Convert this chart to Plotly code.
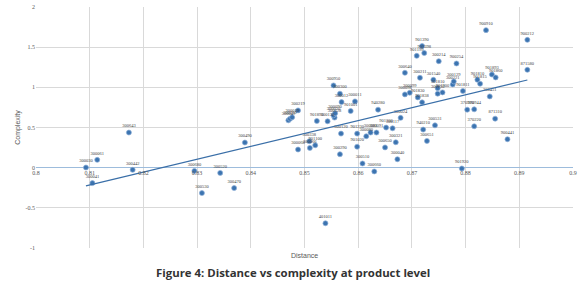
import numpy as np
import plotly.graph_objects as go

product_codes = [
    "300030", "300061", "300041", "300643", "300442", "300490", "300680", "300520",
    "300530", "300470", "300049", "300059", "300019", "300219", "300068", "300338",
    "300066", "901100", "901890", "300130", "401011", "300950", "300300", "300012",
    "300011", "901001", "300628", "300020", "300090", "940280", "300120", "901230",
    "300080", "300081", "300091", "901200", "300117", "901020", "300650", "300290",
    "300510", "300660", "300321", "300040", "300024", "940210", "300651", "300531",
    "300640", "901199", "901390", "901398", "300211", "300214", "900254", "301540",
    "301810", "300221", "300129", "901811", "901900", "300150", "300098", "300099",
    "901830", "901838", "900910", "900212", "871580", "901810", "901815", "901893",
    "901860", "300451", "370980", "370944", "871310", "370220", "900441", "901920",
]
distance = [
    0.8093, 0.8114, 0.8105, 0.8173, 0.8180, 0.8389, 0.8295, 0.8343,
    0.8309, 0.8369, 0.8470, 0.8473, 0.8477, 0.8488, 0.8488, 0.8509,
    0.8510, 0.8520, 0.8523, 0.8543, 0.8539, 0.8554, 0.8566, 0.8569,
    0.8594, 0.8586, 0.8556, 0.8554, 0.8557, 0.8637, 0.8568, 0.8598,
    0.8615, 0.8623, 0.8634, 0.8652, 0.8664, 0.8598, 0.8650, 0.8566,
    0.8608, 0.8630, 0.8670, 0.8673, 0.8679, 0.8721, 0.8728, 0.8743,
    0.8687, 0.8709, 0.8719, 0.8723, 0.8715, 0.8750, 0.8783, 0.8740,
    0.8748, 0.8776, 0.8778, 0.8795, 0.8757, 0.8748, 0.8687, 0.8696,
    0.8711, 0.8719, 0.8838, 0.8915, 0.8915, 0.8822, 0.8827, 0.8849,
    0.8856, 0.8845, 0.8803, 0.8816, 0.8855, 0.8816, 0.8878, 0.8793,
]
complexity = [
    0.002, 0.097, -0.192, 0.437, -0.027, 0.313, -0.040, -0.065,
    -0.316, -0.254, 0.589, 0.608, 0.627, 0.713, 0.226, 0.329,
    0.246, 0.279, 0.581, 0.577, -0.692, 1.024, 0.921, 0.816,
    0.825, 0.705, 0.623, 0.651, 0.676, 0.722, 0.424, 0.424,
    0.391, 0.437, 0.437, 0.499, 0.490, 0.261, 0.252, 0.167,
    0.052, -0.047, 0.316, 0.105, 0.620, 0.474, 0.333, 0.527,
    1.181, 1.392, 1.514, 1.427, 1.119, 1.325, 1.297, 1.094,
    0.990, 1.036, 1.073, 0.955, 0.937, 0.921, 0.912, 0.933,
    0.875, 0.813, 1.712, 1.591, 1.218, 1.094, 1.045, 1.160,
    1.123, 0.887, 0.722, 0.726, 0.610, 0.515, 0.354, -0.010,
]
x_ticks = [0.8, 0.81, 0.82, 0.83, 0.84, 0.85, 0.86, 0.87, 0.88, 0.89, 0.9]
x_tick_labels = ["0.8", "0.81", "0.82", "0.83", "0.84", "0.85", "0.86", "0.87", "0.88", "0.89", "0.9"]
y_ticks = [-1, -0.5, 0, 0.5, 1, 1.5, 2]
y_tick_labels = ["-1", "-0.5", "0", "0.5", "1", "1.5", "2"]

# linear trendline (least squares) over the data range
xa = np.array(distance)
ya = np.array(complexity)
slope, intercept = np.polyfit(xa, ya, 1)
trend_x = [xa.min(), xa.max()]
trend_y = [slope * v + intercept for v in trend_x]

fig = go.Figure()
fig.add_trace(go.Scatter(
    x=distance, y=complexity, mode="markers+text", text=product_codes,
    textposition="top center",
    textfont=dict(family="Liberation Serif", size=4.5, color="#404040"),
    marker=dict(size=5, color="#3c74b0", line=dict(width=0.7, color="#8fb0d8")),
    hoverinfo="x+y+text", showlegend=False,
))
fig.add_trace(go.Scatter(
    x=trend_x, y=trend_y, mode="lines",
    line=dict(color="#3a6fa8", width=1.2), showlegend=False, hoverinfo="skip",
))

fig.update_layout(
    width=580, height=286,
    margin=dict(l=36, r=7, t=7, b=38, autoexpand=False),
    paper_bgcolor="white", plot_bgcolor="white",
    xaxis=dict(
        range=[0.8, 0.9], tickvals=x_ticks, ticktext=x_tick_labels,
        showgrid=True, gridcolor="#d9d9d9", gridwidth=1,
        zeroline=False, showline=False, ticks="", automargin=False,
        anchor="free", position=1/3,
        tickfont=dict(family="Liberation Serif", size=6, color="#595959"),
    ),
    yaxis=dict(
        range=[-1, 2], tickvals=y_ticks, ticktext=y_tick_labels,
        showgrid=True, gridcolor="#d9d9d9", gridwidth=1,
        zeroline=True, zerolinecolor="#9dbcdc", zerolinewidth=1.2,
        showline=False, ticks="", automargin=False,
        tickfont=dict(family="Liberation Serif", size=6, color="#595959"),
        title=dict(text="Complexity", standoff=4,
                   font=dict(family="Liberation Sans", size=7, color="#595959")),
    ),
    annotations=[
        dict(text="Distance", xref="paper", yref="paper", x=0.5, y=-0.03,
             xanchor="center", yanchor="middle", showarrow=False,
             font=dict(family="Liberation Sans", size=7, color="#595959")),
        dict(text="<b>Figure 4: Distance vs complexity at product level</b>",
             xref="paper", yref="paper", x=0.4786, y=-0.10,
             xanchor="center", yanchor="middle", showarrow=False,
             font=dict(family="Open Sans", size=11.4, color="#333333")),
    ],
)

fig.write_html("out.html", config={"displayModeBar": False},
               post_script="document.body.style.margin='0';")
